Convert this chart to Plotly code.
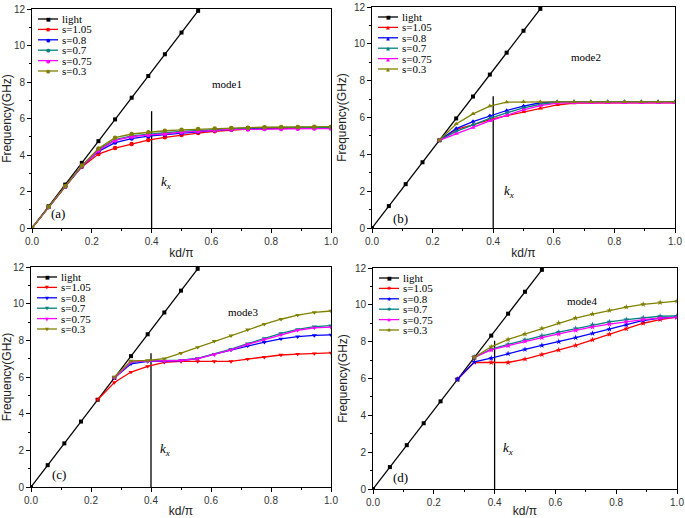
import plotly.graph_objects as go

# ---------------- data ----------------
kx = [0.0, 0.0556, 0.1111, 0.1667, 0.2222, 0.2778, 0.3333, 0.3889, 0.4444, 0.5,
      0.5556, 0.6111, 0.6667, 0.7222, 0.7778, 0.8333, 0.8889, 0.9444, 1.0]

light_x = kx[:11]
light_y = [0, 1.19, 2.38, 3.57, 4.76, 5.95, 7.14, 8.33, 9.52, 10.71, 11.9]

series_names = ["s=1.05", "s=0.8", "s=0.7", "s=0.75", "s=0.3"]
series_colors = ["#ff0000", "#0000ff", "#008080", "#ff00ff", "#808000"]

# mode 1 (all start at 0)
m1_x = kx
m1_s105 = [0, 1.15, 2.28, 3.35, 4.05, 4.38, 4.6, 4.82, 4.97, 5.1, 5.2, 5.3, 5.38, 5.42, 5.45, 5.47, 5.48, 5.48, 5.48]
m1_s08 = [0, 1.15, 2.28, 3.38, 4.2, 4.68, 4.9, 5.03, 5.12, 5.2, 5.28, 5.35, 5.4, 5.45, 5.48, 5.5, 5.5, 5.5, 5.5]
m1_s07 = [0, 1.15, 2.28, 3.4, 4.3, 4.85, 5.05, 5.15, 5.22, 5.3, 5.35, 5.4, 5.45, 5.48, 5.5, 5.5, 5.52, 5.52, 5.52]
m1_s075 = [0, 1.15, 2.28, 3.4, 4.25, 4.8, 5.0, 5.1, 5.15, 5.25, 5.3, 5.35, 5.4, 5.4, 5.42, 5.43, 5.44, 5.45, 5.45]
m1_s03 = [0, 1.16, 2.3, 3.42, 4.35, 4.95, 5.15, 5.25, 5.33, 5.38, 5.42, 5.45, 5.48, 5.5, 5.52, 5.53, 5.54, 5.55, 5.55]

# mode 2 (start at kd/pi = 0.222)
m2_x = kx[4:]
m2_s105 = [4.76, 5.35, 5.6, 5.88, 6.1, 6.3, 6.5, 6.68, 6.78, 6.8, 6.8, 6.8, 6.8, 6.8, 6.8]
m2_s08 = [4.76, 5.4, 5.78, 6.1, 6.38, 6.62, 6.8, 6.85, 6.85, 6.85, 6.85, 6.85, 6.85, 6.85, 6.85]
m2_s07 = [4.76, 5.25, 5.6, 5.95, 6.25, 6.52, 6.72, 6.82, 6.85, 6.85, 6.85, 6.85, 6.85, 6.85, 6.85]
m2_s075 = [4.76, 5.12, 5.45, 5.82, 6.12, 6.42, 6.65, 6.78, 6.8, 6.8, 6.8, 6.8, 6.8, 6.8, 6.8]
m2_s03 = [4.76, 5.65, 6.2, 6.62, 6.83, 6.85, 6.85, 6.85, 6.85, 6.85, 6.85, 6.85, 6.85, 6.85, 6.85]

# mode 3
m3_x_red = kx[4:]
m3_s105 = [4.76, 5.7, 6.27, 6.58, 6.8, 6.85, 6.85, 6.85, 6.85, 6.98, 7.08, 7.2, 7.25, 7.28, 7.32]
m3_x = kx[5:]
m3_s08 = [5.95, 6.72, 6.85, 6.85, 6.9, 7.0, 7.25, 7.48, 7.7, 7.9, 8.08, 8.2, 8.27, 8.3]
m3_s07 = [5.95, 6.8, 6.88, 6.88, 6.92, 7.02, 7.25, 7.52, 7.82, 8.1, 8.38, 8.6, 8.75, 8.8]
m3_s075 = [5.95, 6.82, 6.87, 6.87, 6.9, 7.0, 7.22, 7.48, 7.78, 8.05, 8.3, 8.55, 8.68, 8.72]
m3_s03 = [6.0, 6.88, 6.9, 7.0, 7.3, 7.62, 7.95, 8.25, 8.58, 8.88, 9.15, 9.38, 9.52, 9.6]

# mode 4
m4_x_rb = kx[5:]
m4_s105 = [5.95, 6.88, 6.87, 6.87, 7.05, 7.3, 7.55, 7.8, 8.1, 8.4, 8.7, 9.0, 9.2, 9.33]
m4_s08 = [5.95, 6.9, 7.1, 7.35, 7.58, 7.8, 8.0, 8.22, 8.45, 8.68, 8.92, 9.15, 9.28, 9.35]
m4_x = kx[6:]
m4_s07 = [7.15, 7.6, 7.85, 8.1, 8.32, 8.52, 8.72, 8.92, 9.08, 9.2, 9.3, 9.38, 9.4]
m4_s075 = [7.15, 7.55, 7.78, 8.02, 8.22, 8.42, 8.62, 8.8, 8.95, 9.08, 9.2, 9.28, 9.32]
m4_s03 = [7.15, 7.72, 8.12, 8.42, 8.72, 9.02, 9.28, 9.5, 9.7, 9.88, 10.03, 10.13, 10.2]

kx_line_x = 0.4
kx_line_top = [6.4, 7.15, 7.3, 8.05]

panel_labels = ["(a)", "(b)", "(c)", "(d)"]
mode_labels = ["mode1", "mode2", "mode3", "mode4"]

x_ticks = [0.0, 0.2, 0.4, 0.6, 0.8, 1.0]
x_ticktext = ["0.0", "0.2", "0.4", "0.6", "0.8", "1.0"]
y_ticks = [0, 2, 4, 6, 8, 10, 12]

# ---------------- layout ----------------
W, H = 685, 518
# plot areas in pixels: (left, right, top, bottom)
boxes = [(32, 331, 9, 228), (372, 675, 7, 228), (31, 331, 267, 487), (373, 677, 268, 489)]
markers = ["circle", "triangle-up", "triangle-down", "star"]
legend_glyph = ["●", "▲", "▼", "✱"]
mode_pos = [(0.652, 7.87), (0.706, 9.3), (0.708, 9.54), (0.687, 10.19)]
kx_text_pos = [(0.448, 2.5), (0.452, 2.0), (0.445, 2.06), (0.444, 2.2)]
panel_pos = [(0.088, 0.8), (0.093, 0.5), (0.093, 0.69), (0.089, 0.6)]

panels = [
    [(m1_x, m1_s105), (m1_x, m1_s08), (m1_x, m1_s07), (m1_x, m1_s075), (m1_x, m1_s03)],
    [(m2_x, m2_s105), (m2_x, m2_s08), (m2_x, m2_s07), (m2_x, m2_s075), (m2_x, m2_s03)],
    [(m3_x_red, m3_s105), (m3_x, m3_s08), (m3_x, m3_s07), (m3_x, m3_s075), (m3_x, m3_s03)],
    [(m4_x_rb, m4_s105), (m4_x_rb, m4_s08), (m4_x, m4_s07), (m4_x, m4_s075), (m4_x, m4_s03)],
]

fig = go.Figure()
serif = "Liberation Serif, Times New Roman, serif"
sans = "Liberation Sans, Arial, sans-serif"

legend_names = ["light"] + series_names
legend_colors = ["#000000"] + series_colors

for i in range(4):
    sfx = "" if i == 0 else str(i + 1)
    xa, ya = "x" + sfx, "y" + sfx
    L, R, T, B = boxes[i]
    # vertical k_x line
    fig.add_trace(go.Scatter(x=[kx_line_x, kx_line_x], y=[0, kx_line_top[i]], mode="lines",
                             line=dict(color="black", width=1.3), showlegend=False,
                             xaxis=xa, yaxis=ya, hoverinfo="skip"))
    fig.add_trace(go.Scatter(x=light_x, y=light_y, mode="lines+markers", name="light",
                             line=dict(color="black", width=1.3),
                             marker=dict(symbol="square", size=4, color="black"),
                             xaxis=xa, yaxis=ya, showlegend=False))
    for (sx, sy), nm, col in zip(panels[i], series_names, series_colors):
        fig.add_trace(go.Scatter(x=sx, y=sy, mode="lines+markers", name=nm,
                                 line=dict(color=col, width=1.3),
                                 marker=dict(symbol=markers[i], size=4.5, color=col),
                                 xaxis=xa, yaxis=ya, showlegend=False))

    axis_common = dict(showline=True, linecolor="black", linewidth=1, mirror=True,
                       ticks="outside", ticklen=4, tickcolor="black",
                       showgrid=False, zeroline=False, automargin=False,
                       tickfont=dict(family=sans, size=10, color="#333"))
    fig.layout["xaxis" + sfx] = dict(domain=[L / W, R / W], anchor=ya, range=[0, 1],
                                     tickvals=x_ticks, ticktext=x_ticktext,
                                     minor=dict(ticks="outside", ticklen=2, dtick=0.1, tickcolor="black"),
                                     title=dict(text="kd/π", font=dict(family=sans, size=12, color="#222"), standoff=2),
                                     **axis_common)
    fig.layout["yaxis" + sfx] = dict(domain=[1 - B / H, 1 - T / H], anchor=xa, range=[0, 12],
                                     tickvals=y_ticks,
                                     minor=dict(ticks="outside", ticklen=2, dtick=1, tickcolor="black"),
                                     title=dict(text="Frequency(GHz)", font=dict(family=sans, size=12, color="#222"), standoff=4),
                                     **axis_common)

    # hand-built compact legend (top-left of each panel)
    for k, (nm, col) in enumerate(zip(legend_names, legend_colors)):
        py = T + 10 + k * 10.4
        fig.add_shape(type="line", xref="paper", yref="paper",
                      x0=(L + 6) / W, x1=(L + 26) / W, y0=1 - py / H, y1=1 - py / H,
                      line=dict(color=col, width=1.3))
        glyph = "■" if k == 0 else legend_glyph[i]
        fig.add_annotation(xref="paper", yref="paper", x=(L + 16) / W, y=1 - py / H,
                           text=glyph, showarrow=False, xanchor="center", yanchor="middle",
                           font=dict(family="DejaVu Sans", size=5, color=col))
        fig.add_annotation(xref="paper", yref="paper", x=(L + 28) / W, y=1 - py / H,
                           text=nm, showarrow=False, xanchor="left", yanchor="middle",
                           font=dict(family=serif, size=11, color="black"))

    fig.add_annotation(x=kx_text_pos[i][0], y=kx_text_pos[i][1], xref=xa, yref=ya,
                       text="<i>k<sub>x</sub></i>",
                       showarrow=False, font=dict(family=serif, size=13, color="black"))
    fig.add_annotation(x=mode_pos[i][0], y=mode_pos[i][1], xref=xa, yref=ya,
                       text=mode_labels[i], showarrow=False,
                       font=dict(family=serif, size=11, color="black"))
    fig.add_annotation(x=panel_pos[i][0], y=panel_pos[i][1], xref=xa, yref=ya,
                       text=panel_labels[i], showarrow=False,
                       font=dict(family=serif, size=13, color="black"))

fig.update_layout(width=W, height=H, margin=dict(l=0, r=0, t=0, b=0),
                  paper_bgcolor="white", plot_bgcolor="white", showlegend=False)

fig.write_html("out.html", config={"displayModeBar": False},
               post_script="document.body.style.margin='0';")
